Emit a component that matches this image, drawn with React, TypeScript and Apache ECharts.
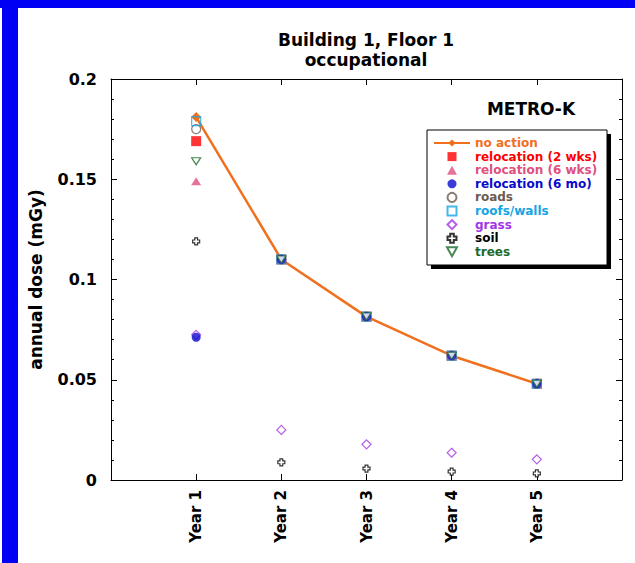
import React, { useEffect, useRef } from "react";
import * as echarts from "echarts";

const years = ["Year 1", "Year 2", "Year 3", "Year 4", "Year 5"];
const yTicks = [0, 0.05, 0.1, 0.15, 0.2];

const noAction = [0.181, 0.11, 0.0815, 0.062, 0.048];
const reloc2wks = [0.169, 0.11, 0.0815, 0.062, 0.048];
const reloc6wks = [0.149, 0.11, 0.0815, 0.062, 0.048];
const reloc6mo = [0.0712, 0.11, 0.0815, 0.062, 0.048];
const roads = [0.175, 0.11, 0.0815, 0.062, 0.048];
const roofsWalls = [0.179, 0.11, 0.0815, 0.062, 0.048];
const grass = [0.0724, 0.025, 0.0178, 0.0136, 0.0103];
const soil = [0.119, 0.0088, 0.0057, 0.0042, 0.0033];
const trees = [0.159, 0.11, 0.0815, 0.062, 0.048];

const FONT = "DejaVu Sans";

const toXY = (vals: number[]) => vals.map((v, i) => [i + 1, v]);

const SQUARE = "path://M0,0H10V10H0Z";
const TRI_UP = "path://M5,0L10,9H0Z";
const TRI_DOWN = "path://M0,0H10L5,9Z";
const DIAMOND = "path://M5,0L10,5L5,10L0,5Z";
const CROSS = "path://M3,0H7V3H10V7H7V10H3V7H0V3H3Z";

export default function App() {
  const ref = useRef<HTMLDivElement>(null);
  useEffect(() => {
    if (!ref.current) return;
    const chart = echarts.init(ref.current, null, { renderer: "svg" });
    const legendItems = [
      { name: "no action", color: "#F0701E" },
      { name: "relocation (2 wks)", color: "#FF0000" },
      { name: "relocation (6 wks)", color: "#E0507E" },
      { name: "relocation (6 mo)", color: "#0A0ACD" },
      { name: "roads", color: "#6B5A50" },
      { name: "roofs/walls", color: "#14A5E6" },
      { name: "grass", color: "#A335E6" },
      { name: "soil", color: "#000000" },
      { name: "trees", color: "#1B6B2B" },
    ];
    const axisLine = { show: true, onZero: false, lineStyle: { color: "#000", width: 1 } };
    const option: any = {
      animation: false,
      backgroundColor: "#fff",
      grid: { left: 111, top: 79, width: 511, height: 401, containLabel: false },
      xAxis: [
        {
          type: "value",
          min: 0,
          max: 6,
          interval: 1,
          position: "bottom",
          axisLine,
          splitLine: { show: false },
          axisTick: { show: true, inside: true, length: 6, lineStyle: { color: "#000" } },
          axisLabel: {
            rotate: 90,
            margin: 10,
            fontFamily: FONT,
            fontWeight: "bold",
            fontSize: 15,
            color: "#000",
            formatter: (v: number) => (v >= 1 && v <= years.length ? years[v - 1] : ""),
          },
        },
        {
          type: "value",
          min: 0,
          max: 6,
          interval: 1,
          position: "top",
          axisLine,
          splitLine: { show: false },
          axisTick: { show: true, inside: true, length: 6, lineStyle: { color: "#000" } },
          axisLabel: { show: false },
        },
      ],
      yAxis: [
        {
          type: "value",
          min: yTicks[0],
          max: yTicks[yTicks.length - 1],
          interval: 0.05,
          position: "left",
          axisLine,
          splitLine: { show: false },
          axisTick: { show: true, inside: true, length: 6, lineStyle: { color: "#000" } },
          minorTick: { show: true, splitNumber: 5, length: 3, lineStyle: { color: "#000" } },
          minorSplitLine: { show: false },
          axisLabel: {
            margin: 14,
            fontFamily: FONT,
            fontWeight: "bold",
            fontSize: 16,
            color: "#000",
          },
          name: "annual dose (mGy)",
          nameLocation: "middle",
          nameGap: 67,
          nameTextStyle: { fontFamily: FONT, fontWeight: "bold", fontSize: 17, color: "#000" },
        },
        {
          type: "value",
          min: yTicks[0],
          max: yTicks[yTicks.length - 1],
          interval: 0.05,
          position: "right",
          axisLine,
          splitLine: { show: false },
          axisTick: { show: true, inside: true, length: 6, lineStyle: { color: "#000" } },
          minorTick: { show: true, splitNumber: 5, length: 3, lineStyle: { color: "#000" } },
          axisLabel: { show: false },
        },
      ],
      legend: {
        orient: "vertical",
        left: 433,
        top: 137,
        itemWidth: 36,
        itemHeight: 9,
        itemGap: 1.6,
        selectedMode: false,
        symbolKeepAspect: true,
        padding: 0,
        textStyle: { fontFamily: FONT, fontWeight: "bold", fontSize: 12, lineHeight: 12 },
        data: legendItems.map((d) => ({ name: d.name, textStyle: { color: d.color } })),
      },
      graphic: [
        { type: "rect", shape: { x: 0, y: 0, width: 635, height: 8 }, style: { fill: "#0000F5" }, silent: true },
        { type: "rect", shape: { x: 2, y: 0, width: 16, height: 563 }, style: { fill: "#0000F5" }, silent: true },
        { type: "rect", shape: { x: 431, y: 134, width: 180, height: 135 }, style: { fill: "#000" }, silent: true },
        { type: "rect", shape: { x: 427, y: 130, width: 180, height: 135 }, style: { fill: "#fff", stroke: "#000", lineWidth: 1 }, silent: true },
        {
          type: "text",
          x: 366,
          y: 40,
          style: { text: "Building 1, Floor 1", align: "center", verticalAlign: "middle", font: `bold 17px "${FONT}"`, fill: "#000" },
        },
        {
          type: "text",
          x: 366,
          y: 60,
          style: { text: "occupational", align: "center", verticalAlign: "middle", font: `bold 17px "${FONT}"`, fill: "#000" },
        },
        {
          type: "text",
          x: 531,
          y: 109,
          style: { text: "METRO-K", align: "center", verticalAlign: "middle", font: `bold 17px "${FONT}"`, fill: "#000" },
        },
      ],
      series: [
        {
          name: "no action",
          type: "line",
          data: toXY(noAction),
          symbol: "diamond",
          symbolSize: [10, 10],
          lineStyle: { color: "#F0701E", width: 2.5 },
          itemStyle: { color: "#F0701E" },
          z: 2,
        },
        {
          name: "relocation (2 wks)",
          type: "scatter",
          data: toXY(reloc2wks),
          symbol: SQUARE,
          symbolSize: 10,
          itemStyle: { color: "#FF0000" },
          z: 3,
        },
        {
          name: "relocation (6 wks)",
          type: "scatter",
          data: toXY(reloc6wks),
          symbol: TRI_UP,
          symbolSize: [10, 8],
          itemStyle: { color: "#E0507E" },
          z: 3,
        },
        {
          name: "roads",
          type: "scatter",
          data: toXY(roads),
          symbol: "circle",
          symbolSize: 9,
          itemStyle: { color: "#fff", borderColor: "#6B5A50", borderWidth: 1.2 },
          z: 4,
        },
        {
          name: "roofs/walls",
          type: "scatter",
          data: toXY(roofsWalls),
          symbol: SQUARE,
          symbolSize: 9,
          itemStyle: { color: "rgba(255,255,255,0)", borderColor: "#14A5E6", borderWidth: 1.2 },
          z: 5,
        },
        {
          name: "relocation (6 mo)",
          type: "scatter",
          data: toXY(reloc6mo),
          symbol: "circle",
          symbolSize: 9,
          itemStyle: { color: "#0A0ACD" },
          z: 6,
        },
        {
          name: "grass",
          type: "scatter",
          data: toXY(grass),
          symbol: DIAMOND,
          symbolSize: 9,
          itemStyle: { color: "rgba(255,255,255,0)", borderColor: "#A335E6", borderWidth: 1.2 },
          z: 5,
        },
        {
          name: "soil",
          type: "scatter",
          data: toXY(soil),
          symbol: CROSS,
          symbolSize: 7,
          itemStyle: { color: "#fff", borderColor: "#000", borderWidth: 1.2 },
          z: 7,
        },
        {
          name: "trees",
          type: "scatter",
          data: toXY(trees),
          symbol: TRI_DOWN,
          symbolSize: [9, 7],
          itemStyle: { color: "#fff", borderColor: "#1B6B2B", borderWidth: 1.2 },
          z: 8,
        },
      ],
    };
    chart.setOption(option);
    return () => chart.dispose();
  }, []);
  return (
    <div
      ref={ref}
      style={{ position: "absolute", left: 0, top: 0, width: 635, height: 563 }}
    />
  );
}
